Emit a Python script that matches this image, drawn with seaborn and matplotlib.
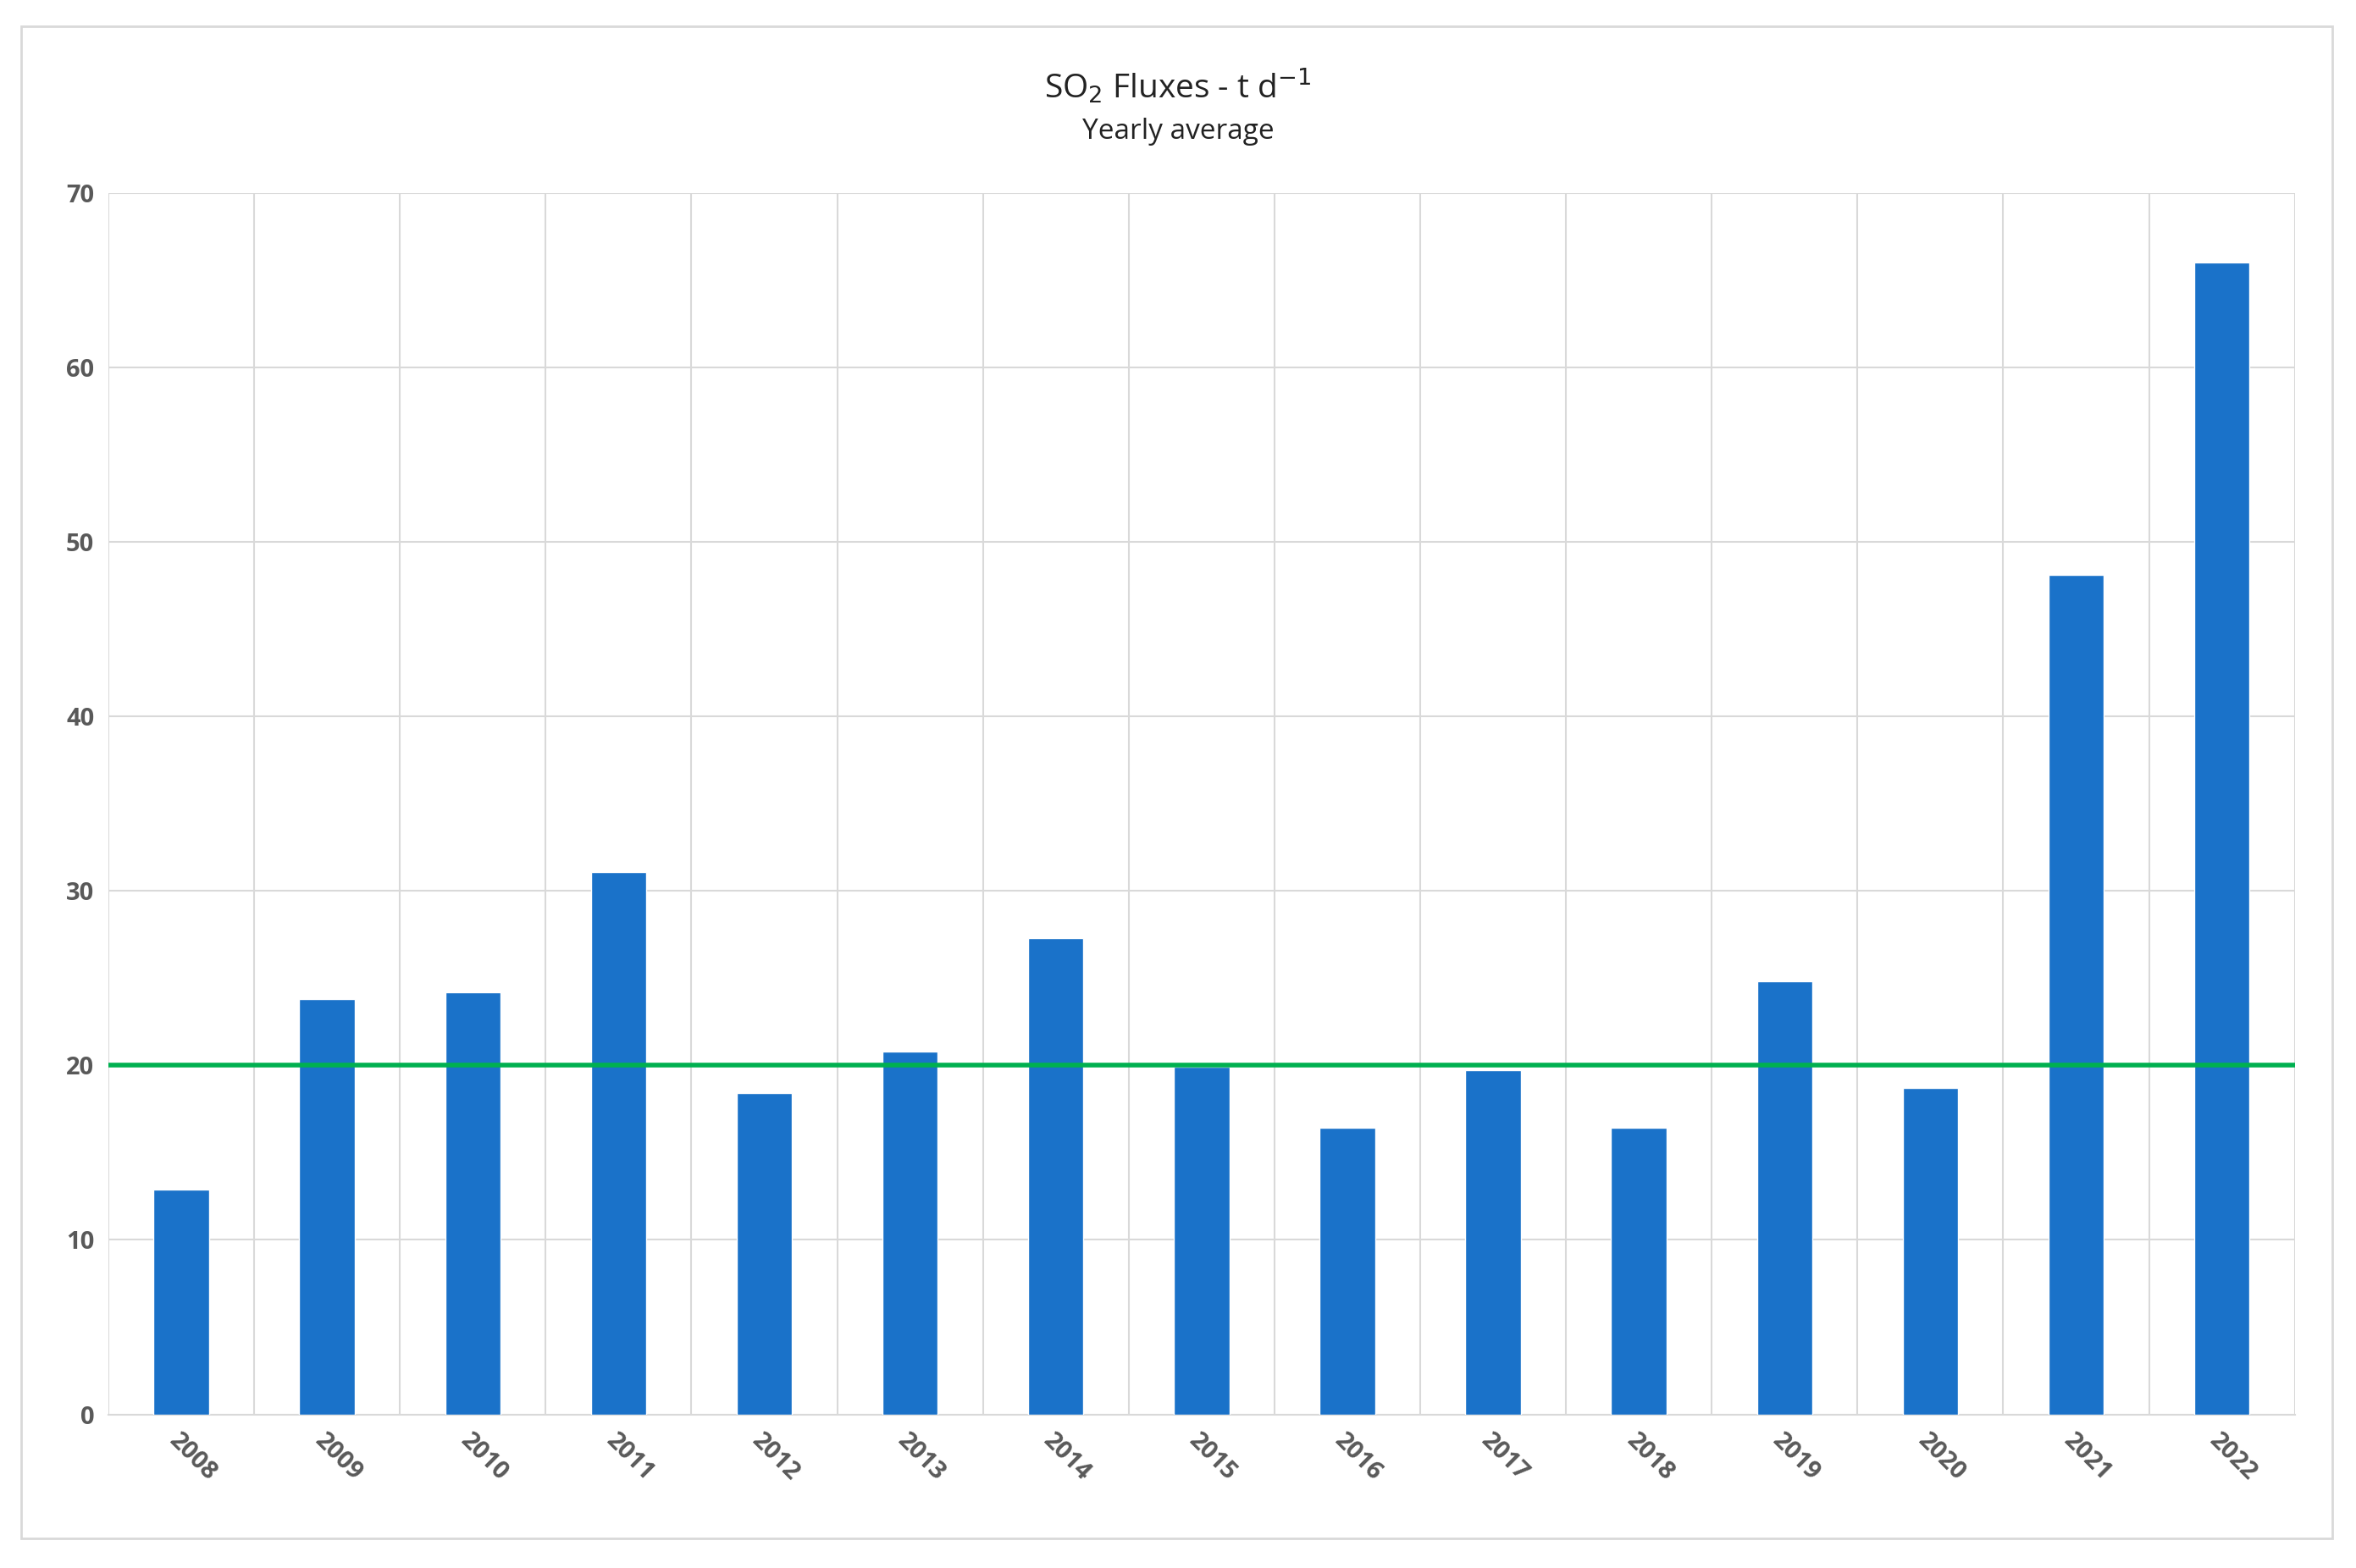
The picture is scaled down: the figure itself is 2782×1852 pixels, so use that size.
import matplotlib
matplotlib.use("Agg")
import matplotlib.pyplot as plt
import seaborn as sns
import pandas as pd
from matplotlib.patches import Rectangle

years = [str(y) for y in range(2008, 2023)]
fluxes = [12.9, 23.8, 24.2, 31.1, 18.4, 20.8, 27.3, 19.9, 16.4, 19.7, 16.4, 24.8, 18.7, 48.1, 66.0]
threshold = 20

sns.set_style("white")
plt.rcParams['font.family'] = ['Open Sans', 'DejaVu Sans']
fig = plt.figure(figsize=(27.82, 18.52), dpi=100)
ax = fig.add_axes([0.046, 0.098, 0.928, 0.779])
df = pd.DataFrame({"year": years, "flux": fluxes})
sns.barplot(data=df, x="year", y="flux", color="#1a72c9", saturation=1, width=0.38, ax=ax, zorder=3)
ax.set_ylim(0, 70)
ax.set_xlim(-0.5, len(years) - 0.5)
ax.set_yticks(range(0, 71, 10))
for i in range(len(years) + 1):
    ax.axvline(i - 0.5, color="#d9d9d9", lw=1.5, zorder=1)
ax.yaxis.grid(True, color="#d9d9d9", lw=1.5, zorder=1)
ax.set_axisbelow(True)
ax.axhline(threshold, color="#00b050", lw=4, zorder=4)
for s in ["top", "right", "left"]:
    ax.spines[s].set_visible(False)
ax.spines["bottom"].set_color("#d9d9d9")
ax.spines["bottom"].set_linewidth(1.5)
ax.set_xlabel("")
ax.set_ylabel("")
ax.tick_params(axis="x", labelsize=21, colors="#595959", length=0, pad=12)
ax.tick_params(axis="y", labelsize=21, colors="#595959", length=0, pad=12)
for lab in ax.get_xticklabels():
    lab.set_rotation(-45)
    lab.set_ha("left")
    lab.set_rotation_mode("anchor")
for lab in ax.get_yticklabels():
    lab.set_fontweight("bold")
for lab in ax.get_xticklabels():
    lab.set_fontweight("bold")
fig.text(0.5, 0.945, r"SO$_2$ Fluxes - t d$^{-1}$", ha="center", va="center", fontsize=28, color="#222222")
fig.text(0.5, 0.916, "Yearly average", ha="center", va="center", fontsize=24, color="#222222")
fig.patches.append(Rectangle((0.009, 0.019), 0.981, 0.964, transform=fig.transFigure,
                             fill=False, edgecolor="#d9d9d9", lw=2))
fig.savefig("out.png", dpi=100, facecolor="white")
